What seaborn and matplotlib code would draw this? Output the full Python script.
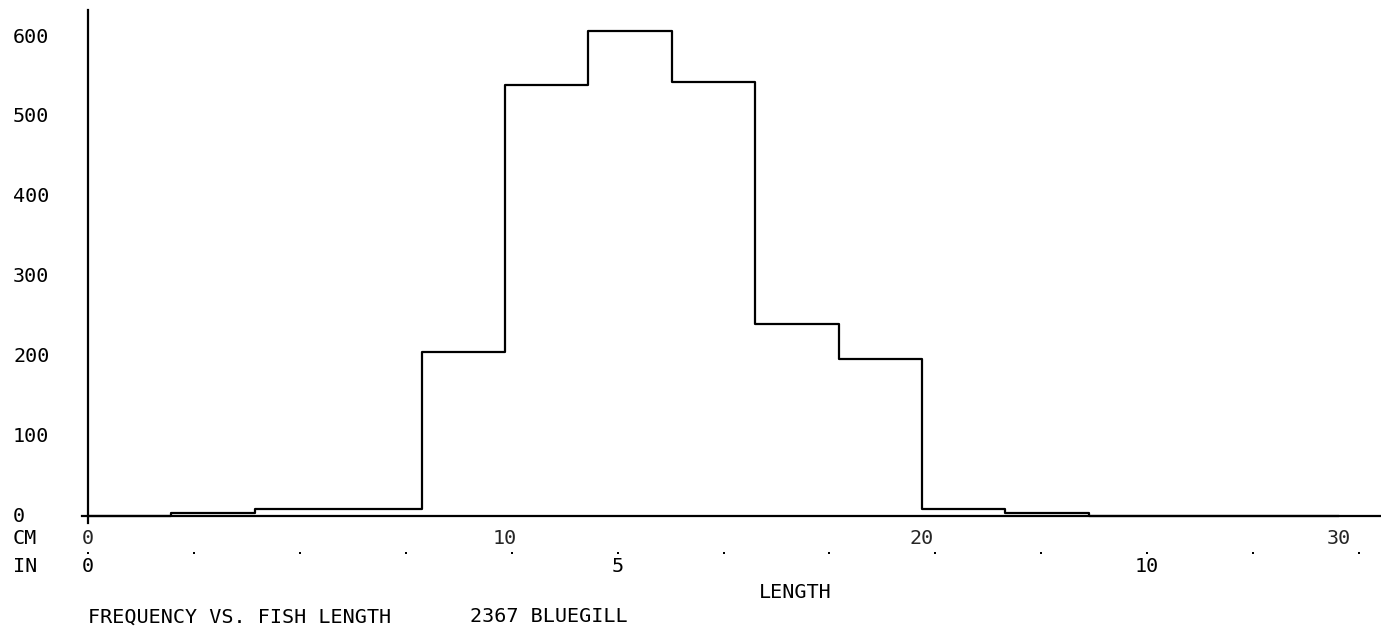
import matplotlib
matplotlib.use("Agg")
import matplotlib.pyplot as plt
import matplotlib.transforms as mtransforms
from matplotlib.ticker import MultipleLocator
import numpy as np
import seaborn as sns

# ---- data ----
bin_edges_cm = [0, 2, 4, 6, 8, 10, 12, 14, 16, 18, 20, 22, 24, 26, 28, 30]
counts = [0, 4, 9, 9, 206, 540, 608, 544, 240, 197, 9, 4, 0, 0, 0]
cm_labels = [0, 10, 20, 30]
inch_labels = [0, 5, 10]
inch_marks = list(range(0, 13))
y_labels = [0, 100, 200, 300, 400, 500, 600]
title_left = "FREQUENCY VS. FISH LENGTH"
title_right = "2367 BLUEGILL"
x_title = "LENGTH"

sns.set_style("white")
plt.rcParams["font.family"] = ["DejaVu Sans Mono", "DejaVu Sans"]

W, H = 1381, 635
fig = plt.figure(figsize=(W / 100, H / 100), dpi=100)

def fx(px):
    return px / W

def fy(py):
    return (H - py) / H

ax_left, ax_right, ax_top, ax_bottom = 82, 1381, 10, 523
ax = fig.add_axes([fx(ax_left), fy(ax_bottom), fx(ax_right - ax_left), fy(ax_top) - fy(ax_bottom)])

centers = [(bin_edges_cm[i] + bin_edges_cm[i + 1]) / 2 for i in range(len(counts))]
sns.histplot(x=centers, weights=counts, bins=bin_edges_cm, element="step",
             fill=False, color="black", linewidth=1.6, ax=ax)

px_per_cm = 41.7
px_per_unit = 0.798
ax.set_xlim((ax_left - 88) / px_per_cm, (ax_right - 88) / px_per_cm)
ax.set_ylim(-(ax_bottom - 516) / px_per_unit, (516 - ax_top) / px_per_unit)

for s in ["top", "right"]:
    ax.spines[s].set_visible(False)
ax.spines["left"].set_position(("data", 0))
ax.spines["bottom"].set_position(("data", 0))
for s in ["left", "bottom"]:
    ax.spines[s].set_linewidth(1.6)
    ax.spines[s].set_color("black")

ax.set_xlabel("")
ax.set_ylabel("")

# x ticks
ax.xaxis.set_major_locator(MultipleLocator(10))
ax.xaxis.set_minor_locator(MultipleLocator(2))
ax.tick_params(axis="x", which="major", direction="inout", length=7, width=1.3,
               labelsize=14.5, pad=6, color="black")
ax.tick_params(axis="x", which="minor", direction="out", length=3, width=1.3, color="black")
ax.set_xticks(cm_labels)
ax.set_xticklabels([str(v) for v in cm_labels])

# y ticks
ax.yaxis.set_major_locator(MultipleLocator(100))
ax.yaxis.set_minor_locator(MultipleLocator(50))
ax.tick_params(axis="y", which="major", direction="out", length=5, width=1.3,
               labelleft=False, color="black")
ax.tick_params(axis="y", which="minor", direction="out", length=1.5, width=1.3, color="black")
ax.set_yticks(y_labels)

fs = 14.5
ytrans = mtransforms.blended_transform_factory(fig.transFigure, ax.transData)
for v in y_labels:
    ax.text(fx(13), v, str(v), transform=ytrans, ha="left", va="center",
            fontsize=fs, color="black", clip_on=False)

fig.text(fx(13), fy(538), "CM", ha="left", va="center", fontsize=fs, color="black")
fig.text(fx(13), fy(566), "IN", ha="left", va="center", fontsize=fs, color="black")

xtrans = mtransforms.blended_transform_factory(ax.transData, fig.transFigure)
inch_x = [i * 2.54 for i in inch_marks]
ax.scatter(inch_x, [fy(553)] * len(inch_x), transform=xtrans, s=4, marker="s",
           color="black", clip_on=False, linewidths=0)
for v in inch_labels:
    ax.text(v * 2.54, fy(567), str(v), transform=xtrans, ha="center", va="center",
            fontsize=fs, color="black", clip_on=False)

fig.text(fx(795), fy(592), x_title, ha="center", va="center", fontsize=fs, color="black")
fig.text(fx(88), fy(617), title_left, ha="left", va="center", fontsize=fs, color="black")
fig.text(fx(470), fy(617), title_right, ha="left", va="center", fontsize=fs, color="black")

fig.savefig("out.png", dpi=100, facecolor="white")
